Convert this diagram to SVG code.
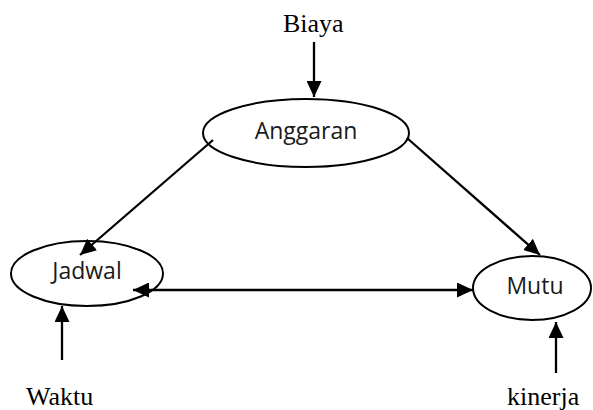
<svg xmlns="http://www.w3.org/2000/svg" width="593" height="410" viewBox="0 0 593 410">
<defs>
<marker id="ah" viewBox="0 0 16 15" refX="16" refY="7.5" markerWidth="16" markerHeight="15" markerUnits="userSpaceOnUse" orient="auto-start-reverse">
<path d="M0,0 L16,7.5 L0,15 Z" fill="#000"/>
</marker>
<style>
.node ellipse{fill:none;stroke:#000;stroke-width:2}
.lbl{font-family:"Open Sans","Noto Sans",sans-serif;font-size:23px;fill:#1a1a1a;text-anchor:middle}
.ext{font-family:"Liberation Serif","Times New Roman",serif;font-size:26px;fill:#000}
.conn line{stroke:#000;stroke-width:2.3;fill:none}
</style>
</defs>
<rect width="593" height="410" fill="#fff"/>
<g id="connectors" class="conn">
<line x1="314" y1="42" x2="314" y2="97" marker-end="url(#ah)"/>
<line x1="213" y1="140" x2="80" y2="255" marker-end="url(#ah)"/>
<line x1="407" y1="138" x2="540" y2="255" marker-end="url(#ah)"/>
<line x1="133" y1="290" x2="473" y2="290" marker-start="url(#ah)" marker-end="url(#ah)"/>
<line x1="62" y1="360" x2="62" y2="306" marker-end="url(#ah)"/>
<line x1="556" y1="373" x2="556" y2="322" marker-end="url(#ah)"/>
</g>
<g id="anggaran" class="node">
<ellipse cx="306" cy="133" rx="103" ry="34"/>
<text class="lbl" x="306" y="139">Anggaran</text>
</g>
<g id="jadwal" class="node">
<ellipse cx="87" cy="273.5" rx="76" ry="32.5"/>
<text class="lbl" x="87" y="279">Jadwal</text>
</g>
<g id="mutu" class="node">
<ellipse cx="532" cy="288" rx="59" ry="32"/>
<text class="lbl" x="535" y="294">Mutu</text>
</g>
<g id="biaya">
<text class="ext" x="283" y="32">Biaya</text>
</g>
<g id="waktu">
<text class="ext" x="26" y="405">Waktu</text>
</g>
<g id="kinerja">
<text class="ext" x="507" y="405">kinerja</text>
</g>
</svg>
